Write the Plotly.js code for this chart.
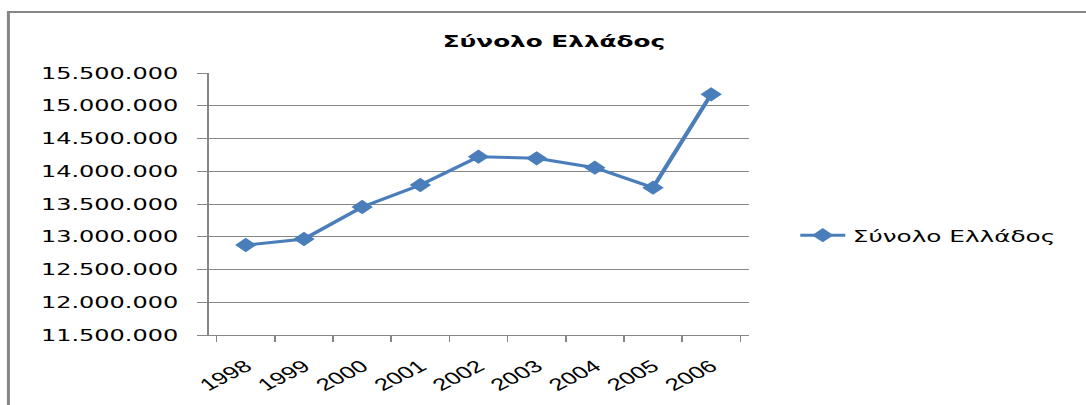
<!DOCTYPE html>
<html>
<head>
<meta charset="utf-8">
<script src="https://cdn.plot.ly/plotly-3.0.1.min.js"></script>
<style>
  html, body { margin: 0; padding: 0; background: #fff; overflow: hidden; }
  #chart { width: 724px; height: 405px; transform: scaleX(1.5); transform-origin: 0 0; }
</style>
</head>
<body>
<div id="chart"></div>
<script>
// Data
const years = ['1998', '1999', '2000', '2001', '2002', '2003', '2004', '2005', '2006'];
const totals = [12874000, 12966000, 13454000, 13790000, 14222000, 14198000, 14054000, 13749000, 15175000];
const seriesName = 'Σύνολο Ελλάδος';
const chartTitle = 'Σύνολο Ελλάδος';

const blue = '#4A7EBB';
const grey = '#868686';

const trace = {
  type: 'scatter',
  mode: 'lines+markers',
  x: years,
  y: totals,
  name: seriesName,
  line: { color: blue, width: 3 },
  marker: { symbol: 'diamond', size: 11, color: blue },
  showlegend: true
};

const layout = {
  width: 724,
  height: 405,
  margin: { l: 138.7, r: 225.3, t: 73, b: 70, pad: 0 },
  paper_bgcolor: '#fff',
  plot_bgcolor: '#fff',
  separators: ',.',
  font: { family: 'DejaVu Sans, Verdana, sans-serif', color: '#000', size: 16 },
  title: {
    text: '<b>' + chartTitle + '</b>',
    font: { family: 'DejaVu Sans, Verdana, sans-serif', size: 16.5, color: '#000' },
    x: 369.3 / 724, xanchor: 'center', xref: 'container',
    y: 1 - 41 / 405, yanchor: 'middle', yref: 'container'
  },
  xaxis: {
    type: 'category',
    showgrid: false,
    showline: true, linecolor: grey, linewidth: 1,
    ticks: 'outside', tickson: 'boundaries', ticklen: 6, tickcolor: grey, tickwidth: 1,
    tickangle: -37,
    ticklabelstandoff: 14,
    tickfont: { family: 'Liberation Sans, Arial, sans-serif', size: 17, color: '#000' },
    zeroline: false,
    fixedrange: true
  },
  yaxis: {
    range: [11500000, 15500000],
    dtick: 500000,
    tick0: 11500000,
    tickformat: ',d',
    showgrid: true, gridcolor: grey, gridwidth: 1,
    showline: true, linecolor: grey, linewidth: 1,
    ticks: 'outside', ticklen: 7, tickcolor: grey, tickwidth: 1,
    ticklabelstandoff: 9,
    tickfont: { family: 'DejaVu Sans, Verdana, sans-serif', size: 16, color: '#000' },
    zeroline: false,
    fixedrange: true
  },
  showlegend: true,
  legend: {
    x: 1.082, xanchor: 'left',
    y: 0.38, yanchor: 'middle',
    font: { family: 'DejaVu Sans, Verdana, sans-serif', size: 16.5, color: '#000' },
    bgcolor: 'rgba(0,0,0,0)',
    borderwidth: 0
  },
  shapes: [{
    type: 'rect', xref: 'paper', yref: 'paper',
    x0: (5.3 - 138.7) / 360, x1: 2,
    y0: -1, y1: (335 - 12) / 262,
    line: { color: grey, width: 2 },
    fillcolor: 'rgba(0,0,0,0)',
    layer: 'below'
  }]
};

Plotly.newPlot('chart', [trace], layout, { displayModeBar: false, staticPlot: true });
</script>
</body>
</html>
